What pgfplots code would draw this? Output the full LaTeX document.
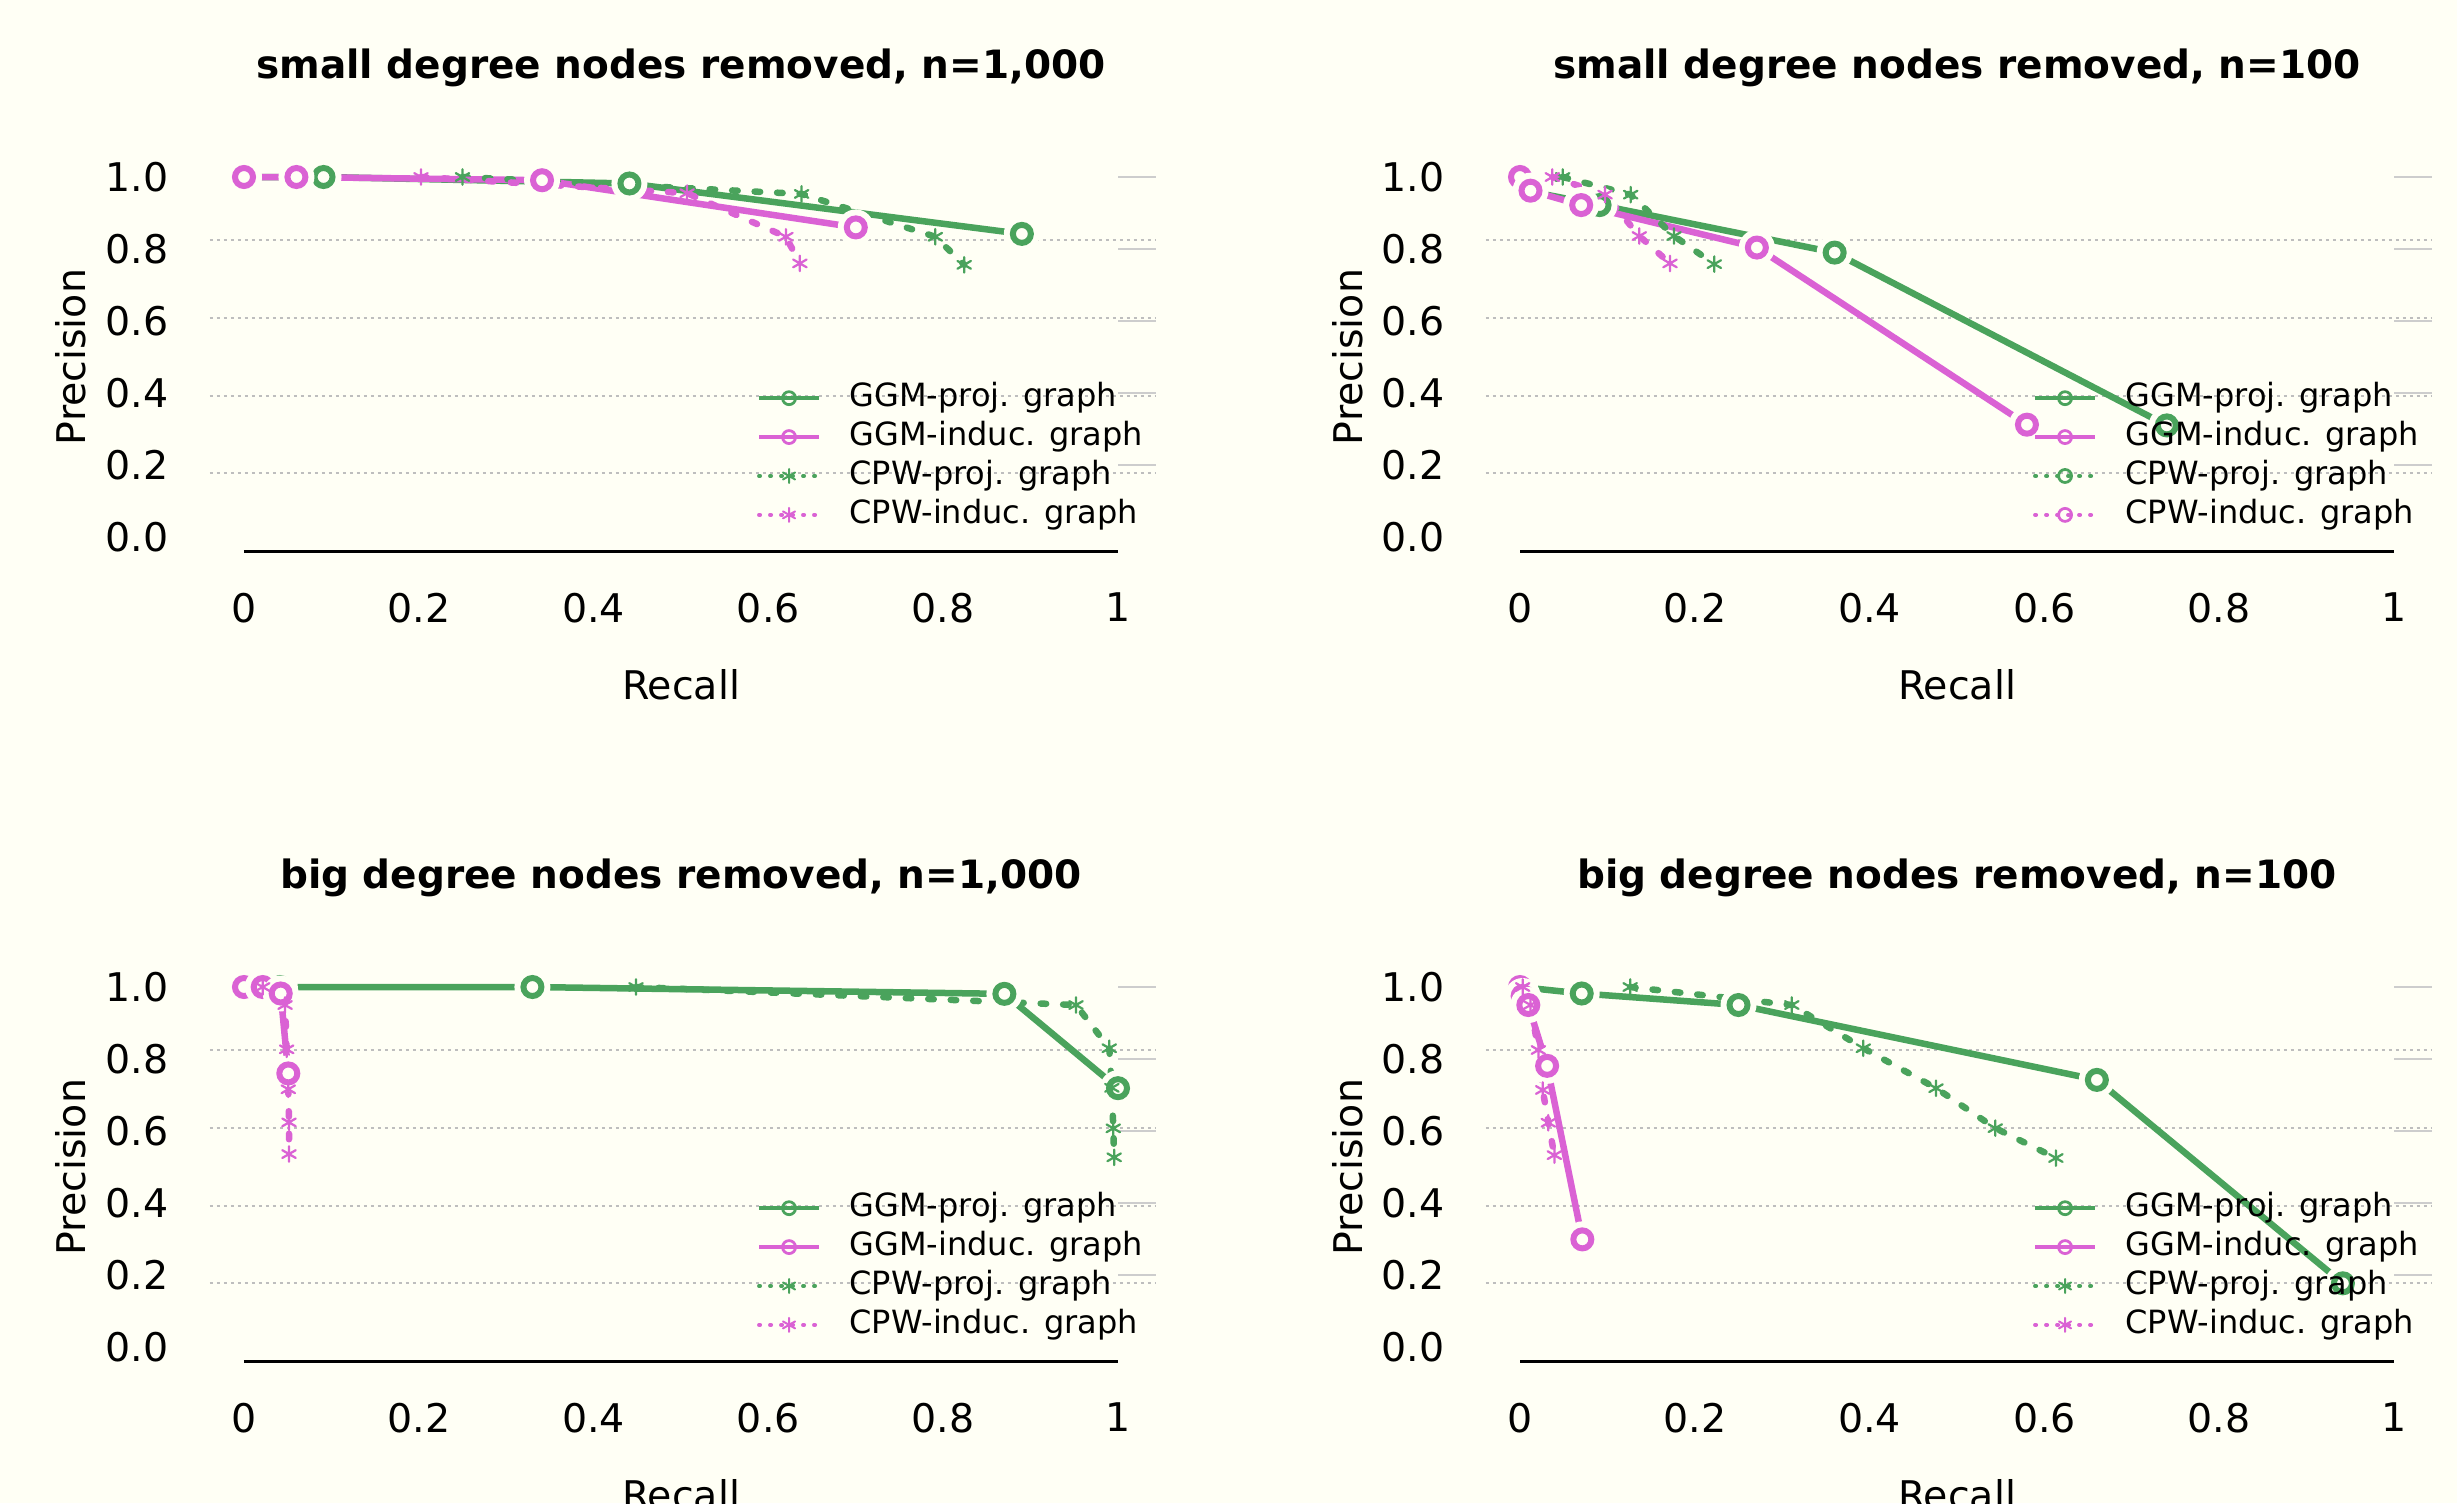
\documentclass[border=0pt]{standalone}
\usepackage{fontspec}
\setmainfont{DejaVu Sans}
\usepackage{pgfplots}
\pgfplotsset{compat=1.18}
\definecolor{bgc}{RGB}{255,255,245}
\definecolor{gr}{RGB}{74,163,92}
\definecolor{mg}{RGB}{218,98,212}
\definecolor{gridc}{RGB}{190,190,190}
\definecolor{rtick}{RGB}{205,205,205}

\pgfdeclareplotmark{ring}{%
  \begin{pgfscope}%
  \pgfsetfillcolor{bgc}%
  \pgfpathcircle{\pgfpointorigin}{2.0\pgfplotmarksize}%
  \pgfusepath{fill}%
  \end{pgfscope}%
  \pgfpathcircle{\pgfpointorigin}{\pgfplotmarksize}%
  \pgfusepath{stroke}%
}

\pgfplotsset{
  every axis title shift=0pt,
  ggm/.style={line width=1.3pt, mark=ring, mark size=1.8pt, mark options={solid, line width=1.2pt}},
  cpw/.style={line width=1.3pt, line cap=round, dash pattern=on 1.1pt off 3.4pt, mark=asterisk, mark size=1.55pt, mark options={solid, line width=0.45pt}},
  ggmleg/.style={line width=0.8pt, mark=o, mark size=1.3pt, mark options={solid, line width=0.55pt}},
  cpwleg/.style={line width=0.8pt, line cap=round, dash pattern=on 0.2pt off 2pt, mark=asterisk, mark size=1.4pt, mark options={solid, line width=0.4pt}},
  cpwlegO/.style={line width=0.8pt, line cap=round, dash pattern=on 0.2pt off 2pt, mark=o, mark size=1.3pt, mark options={solid, line width=0.55pt}},
  panel/.style={
    scale only axis, width=174.8pt, height=72pt,
    xmin=0, xmax=1, ymin=0, ymax=1, clip=false,
    axis line style={draw=none},
    major tick length=0pt,
    xtick={0,0.2,0.4,0.6,0.8,1}, xticklabels={0,0.2,0.4,0.6,0.8,1},
    ytick={0,0.2,0.4,0.6,0.8,1}, yticklabels={0.0,0.2,0.4,0.6,0.8,1.0},
    tick label style={font=\fontsize{7.9}{9}\selectfont, inner sep=0pt},
    xticklabel style={anchor=north, yshift=-11pt},
    yticklabel style={anchor=east, xshift=-14.9pt},
    xlabel={Recall}, ylabel={Precision},
    label style={font=\fontsize{7.9}{9}\selectfont},
    xlabel style={at={(axis description cs:0.5,-0.45)}, anchor=base, inner sep=0pt},
    ylabel style={at={(axis description cs:-0.1808,0.5)}, anchor=base, inner sep=0pt},
    title style={at={(axis description cs:0.5,1.275)}, anchor=base, inner sep=0pt, font=\fontsize{7.8}{9}\selectfont\bfseries},
    legend style={draw=none, fill=none, at={(axis description cs:0.587,0.428)}, anchor=north west,
      inner sep=0pt, outer sep=0pt, row sep=1.68pt, column sep=5.7pt,
      font=\fontsize{6.4}{7.5}\selectfont,
      nodes={inner sep=0pt, text height=4.8pt, text depth=1.3pt}},
    legend cell align=left,
    legend image code/.code={\draw[mark repeat=2,mark phase=2,##1] plot coordinates {(0pt,0pt) (6pt,0pt) (12pt,0pt)};},
  }
}

\newcommand{\decor}{%
  \draw[gridc, line width=0.4pt, dash pattern=on 0.6pt off 0.8pt] (axis cs:-0.039,0.177) -- (axis cs:1.0435,0.177);
  \draw[gridc, line width=0.4pt, dash pattern=on 0.6pt off 0.8pt] (axis cs:-0.039,0.393) -- (axis cs:1.0435,0.393);
  \draw[gridc, line width=0.4pt, dash pattern=on 0.6pt off 0.8pt] (axis cs:-0.039,0.608) -- (axis cs:1.0435,0.608);
  \draw[gridc, line width=0.4pt, dash pattern=on 0.6pt off 0.8pt] (axis cs:-0.039,0.824) -- (axis cs:1.0435,0.824);
  \draw[rtick, line width=0.55pt] (axis cs:1,1) -- (axis cs:1.0435,1);
  \draw[rtick, line width=0.55pt] (axis cs:1,0.8) -- (axis cs:1.0435,0.8);
  \draw[rtick, line width=0.55pt] (axis cs:1,0.6) -- (axis cs:1.0435,0.6);
  \draw[rtick, line width=0.55pt] (axis cs:1,0.4) -- (axis cs:1.0435,0.4);
  \draw[rtick, line width=0.55pt] (axis cs:1,0.2) -- (axis cs:1.0435,0.2);
  \draw[black, line width=0.45pt] (axis cs:0,-0.0403) -- (axis cs:1,-0.0403);
}

\begin{document}
\begin{tikzpicture}
\fill[bgc] (0,0) rectangle (491.4pt,300.6pt);
\useasboundingbox (0,0) rectangle (491.4pt,300.6pt);

% top-left
\begin{axis}[panel, at={(48.8pt,193.2pt)}, anchor=south west, title={small degree nodes removed, n=1,000}]
\decor
\addplot[gr, ggm, forget plot] coordinates {(0,1.0) (0.091,1.0) (0.441,0.982) (0.890,0.842)};
\addplot[mg, ggm, forget plot] coordinates {(0,1.0) (0.060,1.0) (0.341,0.991) (0.700,0.860)};
\addplot[gr, cpw, forget plot] coordinates {(0.250,1.0) (0.638,0.953) (0.791,0.834) (0.824,0.756)};
\addplot[mg, cpw, forget plot] coordinates {(0.2025,1.0) (0.507,0.955) (0.620,0.834) (0.636,0.760)};
\addlegendimage{gr, ggmleg}\addlegendentry{GGM-proj. graph}
\addlegendimage{mg, ggmleg}\addlegendentry{GGM-induc. graph}
\addlegendimage{gr, cpwleg}\addlegendentry{CPW-proj. graph}
\addlegendimage{mg, cpwleg}\addlegendentry{CPW-induc. graph}
\end{axis}

% top-right
\begin{axis}[panel, at={(304pt,193.2pt)}, anchor=south west, title={small degree nodes removed, n=100}]
\decor
\addplot[gr, ggm, forget plot] coordinates {(0.011,0.960) (0.091,0.922) (0.360,0.790) (0.740,0.310)};
\addplot[mg, ggm, forget plot] coordinates {(0,1.0) (0.012,0.962) (0.070,0.922) (0.271,0.804) (0.580,0.312)};
\addplot[gr, cpw, forget plot] coordinates {(0.0488,1.0) (0.1266,0.951) (0.1762,0.836) (0.2223,0.758)};
\addplot[mg, cpw, forget plot] coordinates {(0.037,1.0) (0.0973,0.951) (0.1365,0.836) (0.1716,0.760)};
\addlegendimage{gr, ggmleg}\addlegendentry{GGM-proj. graph}
\addlegendimage{mg, ggmleg}\addlegendentry{GGM-induc. graph}
\addlegendimage{gr, cpwlegO}\addlegendentry{CPW-proj. graph}
\addlegendimage{mg, cpwlegO}\addlegendentry{CPW-induc. graph}
\end{axis}

% bottom-left
\begin{axis}[panel, at={(48.8pt,31.2pt)}, anchor=south west, title={big degree nodes removed, n=1,000}]
\decor
\addplot[gr, ggm, forget plot] coordinates {(0,1.0) (0.041,1.0) (0.330,1.0) (0.870,0.981) (1.0,0.719)};
\addplot[mg, ggm, forget plot] coordinates {(0,1.0) (0.0214,1.0) (0.042,0.982) (0.0507,0.760)};
\addplot[gr, cpw, forget plot] coordinates {(0.4485,1.0) (0.952,0.950) (0.990,0.830) (0.993,0.720) (0.9946,0.6075) (0.9956,0.527)};
\addplot[mg, cpw, forget plot] coordinates {(0.0214,1.0) (0.047,0.950) (0.0488,0.827) (0.0507,0.716) (0.0515,0.624) (0.0515,0.536)};
\addlegendimage{gr, ggmleg}\addlegendentry{GGM-proj. graph}
\addlegendimage{mg, ggmleg}\addlegendentry{GGM-induc. graph}
\addlegendimage{gr, cpwleg}\addlegendentry{CPW-proj. graph}
\addlegendimage{mg, cpwleg}\addlegendentry{CPW-induc. graph}
\end{axis}

% bottom-right
\begin{axis}[panel, at={(304pt,31.2pt)}, anchor=south west, title={big degree nodes removed, n=100}]
\decor
\addplot[gr, ggm, forget plot] coordinates {(0,1.0) (0.0706,0.982) (0.250,0.950) (0.660,0.742) (0.9415,0.177)};
\addplot[mg, ggm, forget plot] coordinates {(0,1.0) (0.003,0.975) (0.0095,0.950) (0.031,0.781) (0.0713,0.299)};
\addplot[gr, cpw, forget plot] coordinates {(0.126,1.0) (0.311,0.950) (0.3928,0.830) (0.476,0.719) (0.5438,0.608) (0.6131,0.525)};
\addplot[mg, cpw, forget plot] coordinates {(0.003,1.0) (0.012,0.950) (0.021,0.825) (0.026,0.714) (0.0324,0.623) (0.0393,0.533)};
\addlegendimage{gr, ggmleg}\addlegendentry{GGM-proj. graph}
\addlegendimage{mg, ggmleg}\addlegendentry{GGM-induc. graph}
\addlegendimage{gr, cpwleg}\addlegendentry{CPW-proj. graph}
\addlegendimage{mg, cpwleg}\addlegendentry{CPW-induc. graph}
\end{axis}
\end{tikzpicture}
\end{document}
